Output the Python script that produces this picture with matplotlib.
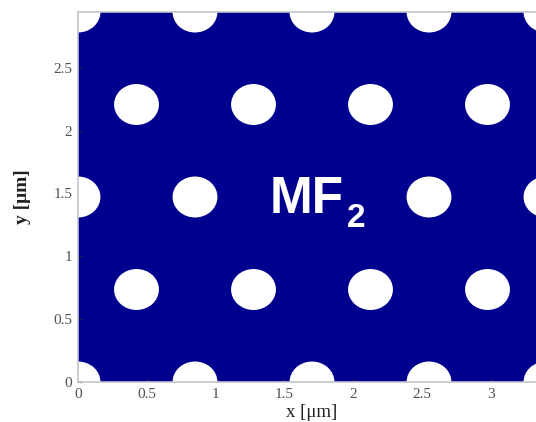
#!/usr/bin/env python

import numpy as np
import matplotlib
matplotlib.use('Agg')
import matplotlib.pyplot as plt
from matplotlib.patches import Ellipse

plt.rcParams['font.family'] = 'Liberation Serif'

# hole centres of the triangular lattice [um], one list per row
row_y = [0.0, 0.736, 1.472, 2.208, 2.944]
row_x = [[0.0, 0.85, 1.70, 2.55, 3.40],
         [0.425, 1.275, 2.125, 2.975],
         [0.0, 0.85, 2.55, 3.40],          # missing hole = MF2 cavity
         [0.425, 1.275, 2.125, 2.975],
         [0.0, 0.85, 1.70, 2.55, 3.40]]
hole_r = 0.163

xticks = [0, 0.5, 1, 1.5, 2, 2.5, 3]
xticklabels = ['0', '0.5', '1', '1.5', '2', '2.5', '3']
yticks = [0, 0.5, 1, 1.5, 2, 2.5]
yticklabels = ['0', '0.5', '1', '1.5', '2', '2.5']

blue = (0, 0, 0.5625)

fig = plt.figure(figsize=(5.36, 4.22), dpi=100)
ax = fig.add_axes([78/536., 40/422., 468/536., 370/422.])
ax.set_facecolor(blue)

for y, xs in zip(row_y, row_x):
    for x in xs:
        ax.add_patch(Ellipse((x, y), 2*hole_r, 2*hole_r, facecolor='white',
                             edgecolor='none', zorder=2))

ax.set_xlim(0, 3.4)
ax.set_ylim(0, 2.944)
ax.set_xticks(xticks)
ax.set_xticklabels(xticklabels)
ax.set_yticks(yticks)
ax.set_yticklabels(yticklabels)
ax.tick_params('both', direction='in', length=3, width=0.8, color='#202040',
               labelsize=11, labelcolor='#505050', pad=4)
for s in ax.spines.values():
    s.set_color('#c4c4cc')
    s.set_linewidth(1.2)
    s.set_zorder(3)

ax.set_xlabel(u'x [\u03bcm]', fontsize=13.5, color='#202020', labelpad=2.5)
ax.set_ylabel(u'y [\u03bcm]', fontsize=14, color='#202020', labelpad=16,
              fontweight='bold')

ax.text(1.394, 1.345, 'MF', color='white', fontsize=37, fontweight='bold',
        family='Liberation Sans', ha='left', va='baseline', zorder=4)
ax.text(1.953, 1.234, '2', color='white', fontsize=24, fontweight='bold',
        family='Liberation Sans', ha='left', va='baseline', zorder=4)

fig.savefig('out.png', dpi=100)
